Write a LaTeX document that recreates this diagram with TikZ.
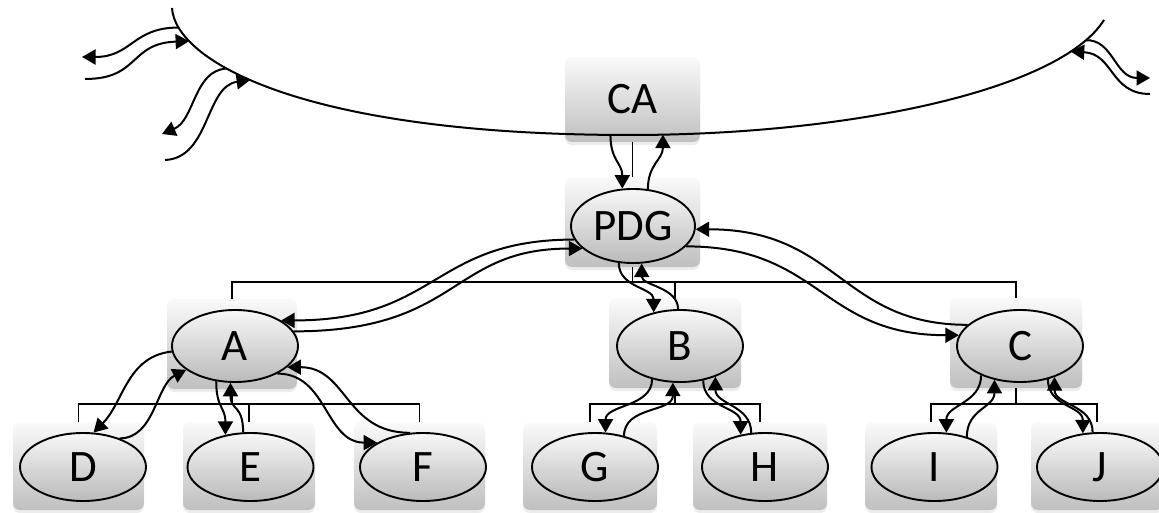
\documentclass[tikz,border=0pt]{standalone}
\usepackage{fontspec}
\setmainfont{Carlito}
\usetikzlibrary{arrows.meta,shapes.geometric,shadows,calc}
\begin{document}
\begin{tikzpicture}[x=1pt,y=-1pt,
  boxsty/.style={rectangle, rounded corners=7pt, top color=black!2, bottom color=black!25, draw=none, inner sep=0pt,
     drop shadow={opacity=0.15, shadow xshift=0pt, shadow yshift=-3pt}},
  upbox/.style={boxsty, minimum width=132pt, minimum height=90pt},
  lowbox/.style={boxsty, minimum width=132pt, minimum height=88pt},
  elli/.style={ellipse, draw, line width=1.9pt, top color=black!3, bottom color=black!27, inner sep=0pt,
     minimum width=126pt, minimum height=72pt, font=\fontsize{45}{50}\selectfont},
  lowelli/.style={elli, minimum height=68pt},
  lin/.style={line width=2pt},
  tree/.style={line width=1.9pt},
  arr/.style={line width=2pt, -{Triangle[length=13.5pt,width=15pt]}}
]
\useasboundingbox (0,0) rectangle (1159,513);
\fill[white] (0,0) rectangle (1159,513);

% background boxes
\node[boxsty, minimum width=135pt, minimum height=85pt, font=\fontsize{45}{50}\selectfont] (CA) at (632.5,99.5) {CA};
\node[boxsty, minimum width=135pt, minimum height=90pt] (PDGbox) at (632.5,222) {};
\node[upbox, minimum width=130pt] (Abox) at (232,344) {};
\node[upbox] (Bbox) at (675,343) {};
\node[upbox] (Cbox) at (1016,343) {};
\node[lowbox, minimum width=131pt] (Dbox) at (78.5,466) {};
\node[lowbox] (Ebox) at (249,466) {};
\node[lowbox, minimum width=131pt] (Fbox) at (419.5,466) {};
\node[lowbox, minimum width=134pt] (Gbox) at (590,466) {};
\node[lowbox, minimum width=134pt] (Hbox) at (760,466) {};
\node[lowbox] (Ibox) at (931,466) {};
\node[lowbox] (Jbox) at (1097,466) {};

% big arc
\draw[lin] (172,8) .. controls (175,60) and (300,135) .. (630,135)
   coordinate[pos=0.12] (arcA1) coordinate[pos=0.20] (arcA2)
   coordinate[pos=0.36] (arcB1) coordinate[pos=0.43] (arcB2)
   coordinate[pos=0.98] (arcCA1)
   .. controls (850,135) and (1060,90) .. (1104,20)
   coordinate[pos=0.05] (arcCA2) coordinate[pos=0.84] (arcR2) coordinate[pos=0.90] (arcR1);

% tree connectors
\draw[tree] (CA.south) -- (PDGbox.north);
\draw[tree] (PDGbox.south) -- ++(0,15) coordinate (pj);
\draw[tree] (Abox.north) |- (pj) -| (Cbox.north);
\draw[tree] (Bbox.north) |- (pj);
\draw[tree] (Abox.south) -- ++(0,15) coordinate (aj);
\draw[tree] (Dbox.north) |- (aj) -| (Fbox.north);
\draw[tree] (Ebox.north) |- (aj);
\draw[tree] (Bbox.south) -- ++(0,16) coordinate (bj);
\draw[tree] (Gbox.north) |- (bj) -| (Hbox.north);
\draw[tree] (Cbox.south) -- ++(0,16) coordinate (cj);
\draw[tree] (Ibox.north) |- (cj) -| (Jbox.north);

% ellipses
\node[elli, minimum width=124pt, minimum height=74pt] (PDG) at (633,226) {PDG};
\node[elli] (A) at (235,346) {A};
\node[elli] (B) at (680,346) {B};
\node[elli] (C) at (1020,346) {C};
\node[lowelli] (D) at (83,467) {D};
\node[lowelli] (E) at (250.5,467) {E};
\node[lowelli] (F) at (423,467) {F};
\node[lowelli] (G) at (595,467) {G};
\node[lowelli] (H) at (765,467) {H};
\node[lowelli] (I) at (934.5,467) {I};
\node[lowelli] (J) at (1100,467) {J};

% free ends of the outer arrows
\coordinate (fA1) at (82,57);
\coordinate (fA2) at (85,79);
\coordinate (fB1) at (162,134);
\coordinate (fB2) at (165,160);
\coordinate (fR1) at (1150,78);
\coordinate (fR2) at (1150,94);

% arrows at the arc
\draw[arr] (arcA1) .. controls +(-46,0) and +(50,0) .. (fA1);
\draw[arr] (fA2) .. controls +(55,0) and +(-60,2) .. (arcA2);
\draw[arr] (arcB1) .. controls +(-33,2) and +(33,-14) .. (fB1);
\draw[arr] (fB2) .. controls +(45,-2) and +(-45,6) .. (arcB2);
\draw[arr] (arcR1) .. controls +(27,-1) and +(-35,0) .. (fR1);
\draw[arr] (fR2) .. controls +(-40,0) and +(43,2) .. (arcR2);

% CA <-> PDG
\draw[arr] (arcCA1) .. controls +(0,26) and +(0,-26) .. (PDG.106);
\draw[arr] (PDG.68) .. controls +(0,-25) and +(0,25) .. (arcCA2);

% PDG <-> A, B, C
\draw[arr] (PDG.193) .. controls +(-143,0) and +(158,0) .. (A.29);
\draw[arr] (A.14) .. controls +(167,0) and +(-133,0) .. (PDG.204);
\draw[arr] (PDG.249) .. controls +(0,25) and +(0,-25) .. (B.128);
\draw[arr] (B.93) .. controls +(0,-22) and +(0,22) .. (PDG.283);
\draw[arr] (PDG.339) .. controls +(135,0) and +(-138,0) .. (C.170);
\draw[arr] (C.158) .. controls +(-127,0) and +(143,0) .. (PDG.357);

% A <-> D, E, F
\draw[arr] (A.185) .. controls +(-45,5) and +(30,-30) .. (D.73);
\draw[arr] (D.38) .. controls +(35,0) and +(-30,15) .. (A.206);
\draw[arr] (A.242) .. controls +(0,27) and +(0,-28) .. (E.128);
\draw[arr] (E.102) .. controls +(0,-28) and +(0,28) .. (A.263);
\draw[arr] (A.327) .. controls +(50,0) and +(-52,0) .. (F.152);
\draw[arr] (F.111) .. controls +(-65,0) and +(60,0) .. (A.338);

% B <-> G, H
\draw[arr] (B.230) .. controls +(0,28) and +(0,-28) .. (G.73);
\draw[arr] (G.47) .. controls +(0,-30) and +(0,30) .. (B.259);
\draw[arr] (B.304) .. controls +(0,28) and +(0,-28) .. (H.127);
\draw[arr] (H.112) .. controls +(0,-28) and +(0,28) .. (B.319);

% C <-> I, J
\draw[arr] (C.217) .. controls +(0,28) and +(0,-28) .. (I.71);
\draw[arr] (I.43) .. controls +(0,-28) and +(0,28) .. (C.233);
\draw[arr] (C.310) .. controls +(0,28) and +(0,-28) .. (J.117);
\draw[arr] (J.102) .. controls +(0,-28) and +(0,28) .. (C.318);
\end{tikzpicture}
\end{document}
